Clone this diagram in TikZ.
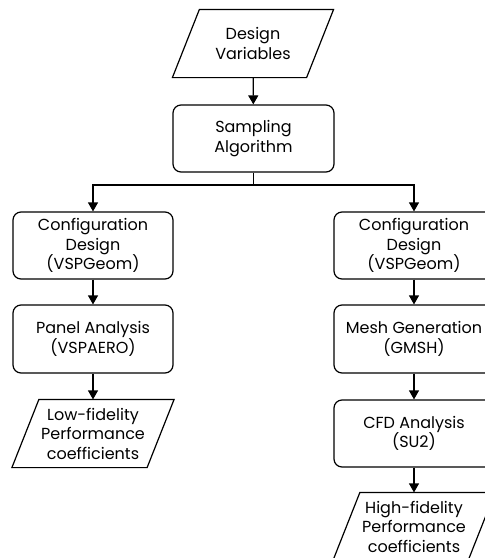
\documentclass[tikz,border=0pt]{standalone}
\usepackage{fontspec}
\setmainfont{Poppins}
\usetikzlibrary{arrows.meta,calc}
\begin{document}
\begin{tikzpicture}[x=1pt,y=-1pt,
  font=\fontsize{16}{19.5}\selectfont,
  line width=1.2pt,
  proc/.style={draw, rounded corners=8pt, minimum width=160pt, minimum height=67pt, align=center, inner sep=0pt},
  io/.style={minimum width=133pt, minimum height=67pt, align=center, inner sep=0pt},
  arr/.style={-{Triangle[width=10pt,length=9pt]}}
]
\useasboundingbox (0,0) rectangle (485,558);
\clip (0,0) rectangle (485,558);
\fill[white] (0,0) rectangle (485,558);
\newcommand{\para}[1]{\draw ($(#1.north west)+(13.5,0)$) -- ($(#1.north east)+(13.5,0)$) -- ($(#1.south east)+(-13.5,0)$) -- ($(#1.south west)+(-13.5,0)$) -- cycle;}
\node[io] (dv) at (253,43.5) {Design\\Variables};
\para{dv}
\node[proc, minimum width=161pt] (sa) at (253.5,138.5) {Sampling\\Algorithm};
\node[proc] (cl) at (93,245.5) {Configuration\\Design\\(VSPGeom)};
\node[proc, minimum height=68pt] (pa) at (93,339) {Panel Analysis\\(VSPAERO)};
\node[io, minimum width=134pt] (lf) at (93,433.5) {Low-fidelity\\Performance\\coefficients};
\para{lf}
\node[proc] (cr) at (414,245.5) {Configuration\\Design\\(VSPGeom)};
\node[proc, minimum height=68pt] (mg) at (414,339) {Mesh Generation\\(GMSH)};
\node[proc] (cfd) at (414,433.5) {CFD Analysis\\(SU2)};
\node[io, minimum width=134pt] (hf) at (414,526.5) {High-fidelity\\Performance\\coefficients};
\para{hf}
\coordinate (j) at (253.5,185);
\draw[arr] (dv) -- (sa);
\draw (sa.south) -- (j);
\draw[arr] (j) -| (cl.north);
\draw[arr] (j) -| (cr.north);
\draw[arr] (cl) -- (pa);
\draw[arr] (pa) -- (lf);
\draw[arr] (cr) -- (mg);
\draw[arr] (mg) -- (cfd);
\draw[arr] (cfd) -- (hf);
\end{tikzpicture}
\end{document}
